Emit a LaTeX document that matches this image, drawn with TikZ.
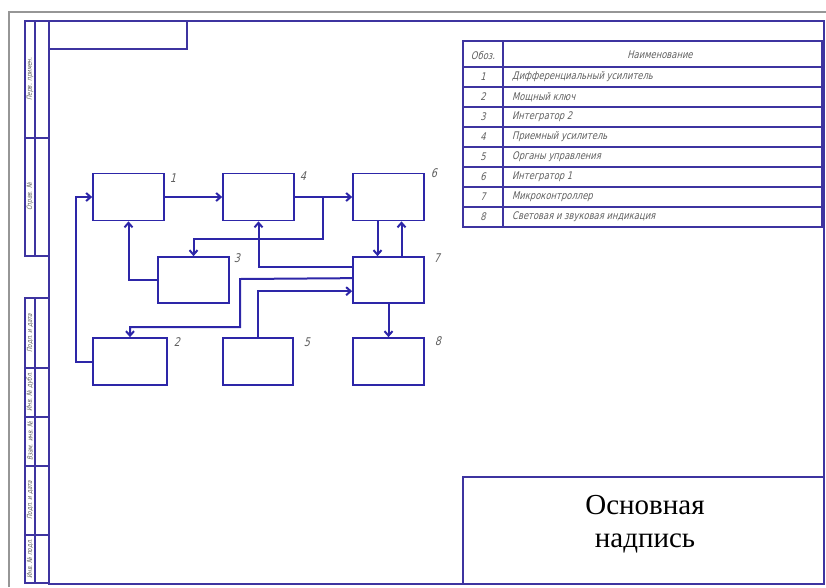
\documentclass[tikz,border=0pt]{standalone}
\usepackage{fontspec}
\setmainfont{Liberation Serif}
\newfontfamily\gost[FakeSlant=0.25,FakeStretch=0.8]{DejaVu Sans}
\usetikzlibrary{arrows.meta,calc}
\definecolor{lineblue}{RGB}{45,38,168}
\definecolor{frameblue}{RGB}{62,52,160}
\definecolor{txtgray}{RGB}{95,95,95}
\definecolor{outgray}{RGB}{150,150,150}
\tikzset{
  blk/.style={draw=lineblue,line width=1.7pt,minimum width=71pt,minimum height=47pt,inner sep=0pt},
  conn/.style={draw=lineblue,line width=2pt},
  arr/.style={conn,-{Straight Barb[length=4.5pt,width=8pt]}},
  frm/.style={draw=frameblue,line width=1.2pt},
  lbl/.style={text=txtgray,font=\gost\fontsize{12}{13}\selectfont,inner sep=0pt},
  tbl/.style={text=txtgray,font=\gost\fontsize{10.5}{12}\selectfont,inner sep=0pt},
  side/.style={text=txtgray,font=\gost\fontsize{7}{8}\selectfont,inner sep=0pt,rotate=90}
}
\begin{document}
\begin{tikzpicture}[x=1pt,y=-1pt]
\useasboundingbox (0,0) rectangle (826,587);
% outer gray sheet edge
\draw[outgray,line width=1.3pt] (9,587) -- (9,12) -- (826,12);
% main frame
\draw[frm] (49,21) rectangle (824,584);
\draw[frm] (49,49) -- (187,49) -- (187,21);
% left strips
\draw[frm] (25,21) rectangle (49,256);
\draw[frm] (35,21) -- (35,256);
\draw[frm] (25,138) -- (49,138);
\draw[frm] (25,298) rectangle (49,583);
\draw[frm] (35,298) -- (35,583);
\foreach \yy in {368,417,466,535} \draw[frm] (25,\yy) -- (49,\yy);
\node[side] (s1) at (30,79) {Перв. примен.};
\node[side] (s2) at (30,197) {Справ. №};
\node[side] (s3) at (30,333) {Подп. и дата};
\node[side] (s4) at (30,392) {Инв. № дубл.};
\node[side] (s5) at (30,441) {Взам. инв. №};
\node[side] (s6) at (30,500) {Подп. и дата};
\node[side] (s7) at (30,559) {Инв. № подл.};
% table
\draw[frm] (463,41) rectangle (822,227);
\draw[frm] (503,41) -- (503,227);
\foreach \yy in {67,87,107,127,147,167,187,207} \draw[frm] (463,\yy) -- (822,\yy);
\node[tbl] (th1) at (483,55) {Обоз.};
\node[tbl] (th2) at (660,55) {Наименование};
\foreach \n/\t [count=\i] in {1/Дифференциальный усилитель,2/Мощный ключ,3/Интегратор 2,4/Приемный усилитель,5/Органы управления,6/Интегратор 1,7/Микроконтроллер,8/Световая и звуковая индикация}{
  \node[tbl] (tn\i) at (483,57+20*\i) {\n};
  \node[tbl,anchor=west] (tt\i) at (512,57+20*\i) {\t};
}
% title block
\draw[frm] (463,477) rectangle (824,584);
\node[font=\fontsize{29}{33}\selectfont,align=center,inner sep=0pt] (title) at (645,524) {Основная\\надпись};
% blocks
\node[blk] (b1) at (128.5,197) {};
\node[blk] (b4) at (258.5,197) {};
\node[blk] (b6) at (388.5,197) {};
\node[blk,minimum height=46pt] (b3) at (193.5,280) {};
\node[blk,minimum height=46pt] (b7) at (388.5,280) {};
\node[blk,minimum width=74pt] (b2) at (130,361.5) {};
\node[blk,minimum width=70pt] (b5) at (258,361.5) {};
\node[blk] (b8) at (388.5,361.5) {};
% labels
\node[lbl] (l1) at (173,178) {1};
\node[lbl] (l4) at (303,176) {4};
\node[lbl] (l6) at (434,173) {6};
\node[lbl] (l3) at (237,258) {3};
\node[lbl] (l7) at (437,258) {7};
\node[lbl] (l2) at (177,342) {2};
\node[lbl] (l5) at (307,342) {5};
\node[lbl] (l8) at (438,341) {8};
% connectors
\draw[arr] (b1.east) -- (b4.west);
\draw[arr] (b4.east) -- (b6.west);
\coordinate (j1) at (323,197);
\draw[arr] (j1) -- (323,239) -| (b3.north);
\draw[arr] (b3.west) -| (b1.south);
\coordinate (o74) at ($(b7.north west)+(0,11)$);
\draw[arr] (o74) -| (b4.south);
\coordinate (o72) at ($(b7.north west)+(0,22)$);
\draw[arr] (o72) -- (240,279) -- (240,327) -| (b2.north);
\coordinate (i57) at ($(b7.north west)+(0,35)$);
\draw[arr] (b5.north) |- (i57);
\draw[arr] ([xshift=-11pt]b6.south) -- ([xshift=-11pt]b7.north);
\draw[arr] ([xshift=13pt]b7.north) -- ([xshift=13pt]b6.south);
\draw[arr] (b7.south) -- (b8.north);
\draw[arr] (b2.west) -- (76,361.5) |- (b1.west);
\end{tikzpicture}
\end{document}
